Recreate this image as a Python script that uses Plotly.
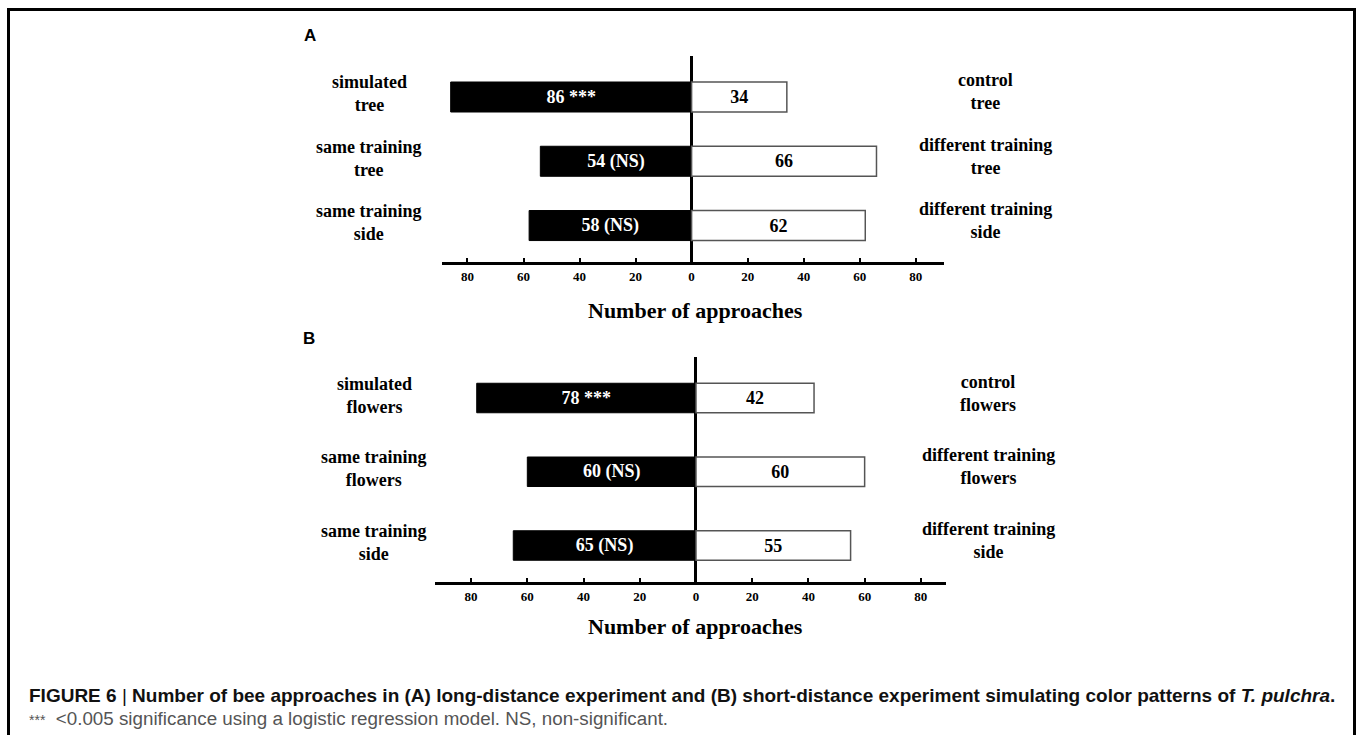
import plotly.graph_objects as go

W, H = 1357, 735

# ---------------- data ----------------
rows_A = ["simulated<br>tree", "same training<br>tree", "same training<br>side"]
right_labels_A = ["control<br>tree", "different training<br>tree", "different training<br>side"]
left_A = [86, 54, 58]
right_A = [34, 66, 62]
sig_A = ["***", "(NS)", "(NS)"]

rows_B = ["simulated<br>flowers", "same training<br>flowers", "same training<br>side"]
right_labels_B = ["control<br>flowers", "different training<br>flowers", "different training<br>side"]
left_B = [78, 60, 65]
right_B = [42, 60, 55]
sig_B = ["***", "(NS)", "(NS)"]

tick_vals = [-80, -60, -40, -20, 0, 20, 40, 60, 80]
tick_text = ["80", "60", "40", "20", "0", "20", "40", "60", "80"]

axis_title = "Number of approaches"
caption1 = ("FIGURE 6 <span style='font-weight:normal'>|</span> Number of bee approaches in (A) long-distance experiment and "
            "(B) short-distance experiment simulating color patterns of <i>T. pulchra</i>.")
caption2 = ("<span style='font-size:14px'>***</span>  &lt;0.005 significance using a logistic "
            "regression model. NS, non-significant.")

SERIF = "Liberation Serif"
SANS = "Liberation Sans"


def px(x):
    return x / W


def py(y):
    return 1 - y / H


fig = go.Figure()


def add_panel(rows, left, right, sig, xa, ya, width):
    fig.add_trace(go.Bar(
        y=rows, x=[-v for v in left], orientation="h",
        marker=dict(color="black", line=dict(color="black", width=1)),
        width=width,
        text=[f"{v} {s}" for v, s in zip(left, sig)],
        textposition="inside", insidetextanchor="middle", textangle=0,
        textfont=dict(family=SERIF, size=18, color="white", weight="bold"),
        xaxis=xa, yaxis=ya, showlegend=False, hoverinfo="skip",
    ))
    fig.add_trace(go.Bar(
        y=rows, x=right, orientation="h",
        marker=dict(color="white", line=dict(color="#555555", width=1.5)),
        width=width,
        text=[str(v) for v in right],
        textposition="inside", insidetextanchor="middle", textangle=0,
        textfont=dict(family=SERIF, size=18, color="black", weight="bold"),
        xaxis=xa, yaxis=ya, showlegend=False, hoverinfo="skip",
    ))


add_panel(rows_A, left_A, right_A, sig_A, "x", "y", 0.467)
add_panel(rows_B, left_B, right_B, sig_B, "x2", "y2", 0.40)

xcommon = dict(
    tickmode="array", tickvals=tick_vals, ticktext=tick_text,
    ticks="inside", ticklen=4, tickwidth=2, tickcolor="black",
    showline=True, linewidth=3, linecolor="black",
    zeroline=True, zerolinewidth=3, zerolinecolor="black",
    showgrid=False, layer="above traces",
    tickfont=dict(family=SERIF, size=13, color="black", weight="bold"),
    fixedrange=True,
)
ycommon = dict(showticklabels=False, showline=False, showgrid=False,
               zeroline=False, ticks="", fixedrange=True, type="category")

fig.update_layout(
    width=W, height=H,
    margin=dict(l=0, r=0, t=0, b=0),
    paper_bgcolor="white", plot_bgcolor="rgba(0,0,0,0)",
    barmode="overlay",
    xaxis=dict(domain=[px(442), px(944)], range=[-89.1, 90.1], anchor="y", **xcommon),
    yaxis=dict(domain=[py(262.3), py(56)], range=[2.572, -0.638], anchor="x", **ycommon),
    xaxis2=dict(domain=[px(435.4), px(945.6)], range=[-92.7, 88.8], anchor="y2", **xcommon),
    yaxis2=dict(domain=[py(582.3), py(357)], range=[2.499, -0.556], anchor="x2", **ycommon),
)

ann = []
lab_font = dict(family=SERIF, size=18, color="black", weight="bold")
for rows, rlabels, yref, lx, rx in [
    (rows_A, right_labels_A, "y", 369, 985),
    (rows_B, right_labels_B, "y2", 374, 988),
]:
    for r, rl in zip(rows, rlabels):
        ann.append(dict(text=r, x=px(lx), xref="paper", y=r, yref=yref,
                        xanchor="center", yanchor="middle", showarrow=False,
                        font=lab_font, align="center", yshift=3))
        ann.append(dict(text=rl, x=px(rx), xref="paper", y=r, yref=yref,
                        xanchor="center", yanchor="middle", showarrow=False,
                        font=lab_font, align="center", yshift=5))

# axis titles
for yy in (310, 626):
    ann.append(dict(text=axis_title, x=px(695), y=py(yy), xref="paper", yref="paper",
                    xanchor="center", yanchor="middle", showarrow=False,
                    font=dict(family=SERIF, size=22, color="black", weight="bold")))

# panel letters
ann.append(dict(text="A", x=px(302), y=py(35), xref="paper", yref="paper",
                xanchor="left", yanchor="middle", showarrow=False,
                font=dict(family=SANS, size=17, color="black", weight="bold")))
ann.append(dict(text="B", x=px(301), y=py(338), xref="paper", yref="paper",
                xanchor="left", yanchor="middle", showarrow=False,
                font=dict(family=SANS, size=17, color="black", weight="bold")))

# caption
ann.append(dict(text=caption1, x=px(27), y=py(695), xref="paper", yref="paper",
                xanchor="left", yanchor="middle", showarrow=False,
                font=dict(family=SANS, size=19, color="#111111", weight="bold")))
ann.append(dict(text=caption2, x=px(27), y=py(718), xref="paper", yref="paper",
                xanchor="left", yanchor="middle", showarrow=False,
                font=dict(family=SANS, size=18.8, color="#555555")))

fig.update_layout(annotations=ann)

# frame (open at bottom)
fig.add_shape(type="path",
              path=f"M {px(8.5)},{py(760)} L {px(8.5)},{py(9.5)} L {px(1354.5)},{py(9.5)} L {px(1354.5)},{py(760)}",
              xref="paper", yref="paper", line=dict(color="black", width=3))

fig.write_html("out.html", include_plotlyjs=True,
               config={"displayModeBar": False},
               post_script="document.body.style.margin='0';")
